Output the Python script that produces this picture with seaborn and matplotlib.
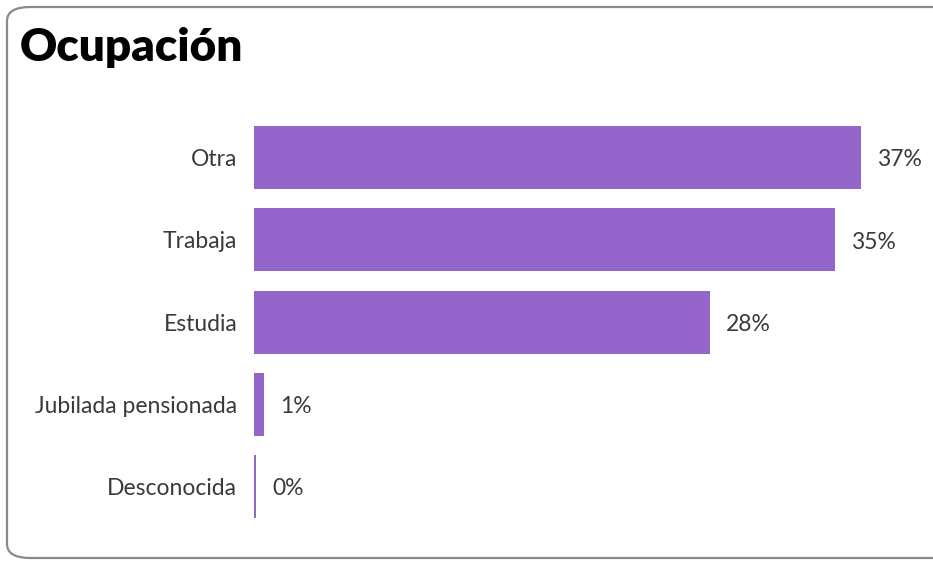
import matplotlib
matplotlib.use("Agg")
import matplotlib.pyplot as plt
import seaborn as sns
import pandas as pd
from matplotlib.patches import FancyBboxPatch

categories = ["Otra", "Trabaja", "Estudia", "Jubilada pensionada", "Desconocida"]
values = [37.0, 35.4, 27.8, 0.6, 0.15]
labels = ["37%", "35%", "28%", "1%", "0%"]

df = pd.DataFrame({"ocupacion": categories, "pct": values})

sns.set_theme(style="white")
plt.rcParams["font.family"] = ["Lato", "DejaVu Sans"]

fig = plt.figure(figsize=(9.33, 5.61), dpi=100)

# card border (cut off on the right like the reference)
card = FancyBboxPatch((7 / 933, 3 / 561), 960 / 933, 551 / 561,
                      boxstyle="round,pad=0,rounding_size=0.025",
                      transform=fig.transFigure, facecolor="none",
                      edgecolor="#8a8a8a", linewidth=1.6, zorder=-1)
fig.patches.append(card)

fig.text(20 / 933, 1 - 47 / 561, "Ocupación", fontsize=33, fontweight="heavy",
         color="black", va="center", ha="left")

ax = fig.add_axes([254 / 933, 0.0595, (920 - 254) / 933, 0.733])
ax.patch.set_alpha(0)
sns.barplot(data=df, x="pct", y="ocupacion", color="#9466cc", saturation=1,
            width=0.766, ax=ax, orient="h", linewidth=0)
ax.set_xlim(0, (920 - 254) / 16.4)
ax.set_ylim(4.5, -0.5)
ax.set_xlabel("")
ax.set_ylabel("")
ax.set_xticks([])
ax.tick_params(axis="y", length=0, pad=12, labelsize=16.5, labelcolor="#3a3a3a")
sns.despine(ax=ax, left=True, bottom=True)

for i, (v, t) in enumerate(zip(values, labels)):
    ax.text(v + 1.0, i + 0.03, t, va="center", ha="left", fontsize=16.5,
            color="#3a3a3a")

fig.savefig("out.png", dpi=100)
